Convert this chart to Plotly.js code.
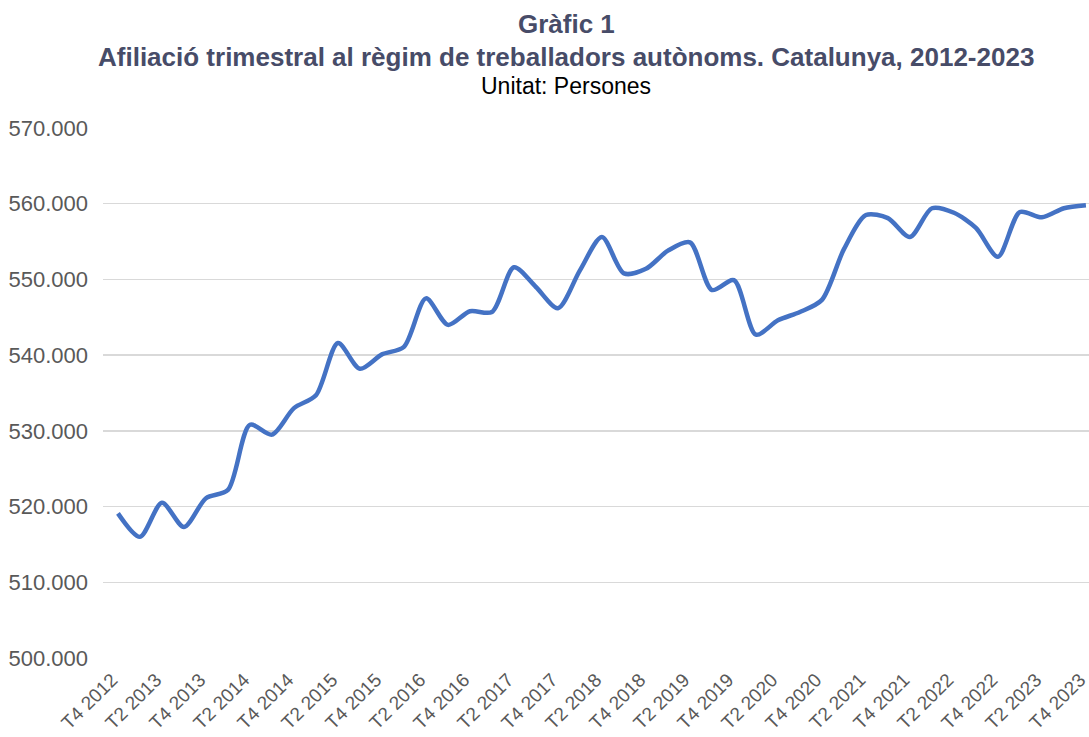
<!DOCTYPE html>
<html>
<head>
<meta charset="utf-8">
<script src="https://cdn.plot.ly/plotly-3.0.1.min.js"></script>
<style>html,body{margin:0;padding:0;background:#fff;}#chart{width:1089px;height:737px;}</style>
</head>
<body>
<div id="chart"></div>
<script>
const quarters = ["T4 2012","T1 2013","T2 2013","T3 2013","T4 2013","T1 2014","T2 2014","T3 2014","T4 2014","T1 2015","T2 2015","T3 2015","T4 2015","T1 2016","T2 2016","T3 2016","T4 2016","T1 2017","T2 2017","T3 2017","T4 2017","T1 2018","T2 2018","T3 2018","T4 2018","T1 2019","T2 2019","T3 2019","T4 2019","T1 2020","T2 2020","T3 2020","T4 2020","T1 2021","T2 2021","T3 2021","T4 2021","T1 2022","T2 2022","T3 2022","T4 2022","T1 2023","T2 2023","T3 2023","T4 2023"];
const afiliats = [519100,516000,520500,517300,521100,522200,530800,529500,533000,534700,541600,538200,540100,541100,547500,544000,545800,545700,551600,549000,546200,551200,555600,550800,551400,553800,554900,548600,549900,542700,544600,545700,547300,554000,558500,558100,555600,559400,558800,556800,553000,558900,558200,559400,559800];
const tickLabels = quarters.filter((q, i) => i % 2 === 0);
const tickPositions = quarters.map((q, i) => i).filter(i => i % 2 === 0);

const trace = {
  x: quarters.map((q, i) => i),
  y: afiliats,
  type: 'scatter',
  mode: 'lines',
  line: {color: '#4472C4', width: 4.5, shape: 'spline', smoothing: 0.8},
  cliponaxis: false,
  hoverinfo: 'y'
};

const layout = {
  width: 1089, height: 737,
  margin: {l: 103, r: 0, t: 128, b: 79},
  paper_bgcolor: '#fff', plot_bgcolor: '#fff',
  separators: ',.',
  showlegend: false,
  font: {family: 'Liberation Sans, Arial, sans-serif', color: '#595959'},
  xaxis: {
    range: [-0.68, 44.14],
    tickvals: tickPositions,
    ticktext: tickLabels,
    tickangle: -45,
    ticklabeloverflow: 'allow',
    ticklabelshift: -6,
    ticklabelstandoff: 6,
    tickfont: {size: 19, color: '#595959'},
    showgrid: false, zeroline: false, showline: false,
    ticks: '', fixedrange: true
  },
  yaxis: {
    range: [500000, 570000],
    dtick: 10000,
    tickformat: ',.0f',
    tickfont: {size: 22, color: '#595959'},
    gridcolor: '#d9d9d9', gridwidth: 1.5,
    zeroline: false, showline: false, ticks: '',
    ticklabelstandoff: 14,
    fixedrange: true
  },
  annotations: [
    {text: '<b>Gràfic 1</b>', xref: 'paper', yref: 'paper', x: 0.5, y: 1, xanchor: 'center', yanchor: 'middle',
     yshift: 104, showarrow: false, font: {size: 26, color: '#474C68', family: 'Liberation Sans, Arial, sans-serif'}},
    {text: '<b>Afiliació trimestral al règim de treballadors autònoms. Catalunya, 2012-2023</b>', xref: 'paper', yref: 'paper',
     x: 0.5, y: 1, xanchor: 'center', yanchor: 'middle', yshift: 71, showarrow: false,
     font: {size: 26, color: '#474C68', family: 'Liberation Sans, Arial, sans-serif'}},
    {text: 'Unitat: Persones', xref: 'paper', yref: 'paper', x: 0.5, y: 1, xanchor: 'center', yanchor: 'middle',
     yshift: 42, showarrow: false, font: {size: 23, color: '#000', family: 'Liberation Sans, Arial, sans-serif'}}
  ]
};
layout.annotations.forEach(a => { a.x = (566 - 103) / 986; });

Plotly.newPlot('chart', [trace], layout, {displayModeBar: false, staticPlot: true});
</script>
</body>
</html>
